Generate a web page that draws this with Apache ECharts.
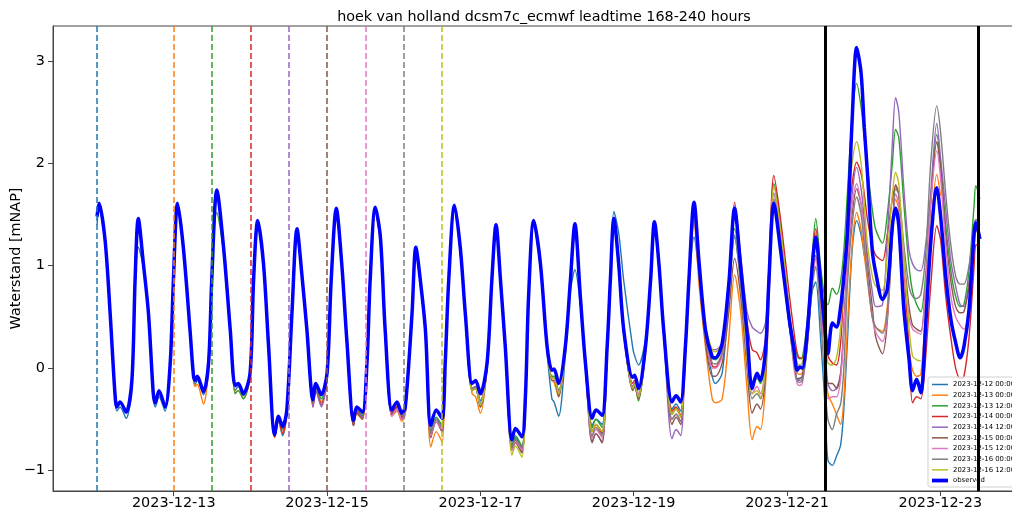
<!DOCTYPE html>
<html>
<head>
<meta charset="utf-8">
<script src="https://cdn.jsdelivr.net/npm/echarts@6/dist/echarts.min.js"></script>
<style>
html,body{margin:0;padding:0;background:#fff;}
#c{width:1012px;height:508px;}
</style>
</head>
<body>
<div id="c"></div>
<script>
// ---------------- data ----------------
const titleText = 'hoek van holland dcsm7c_ecmwf leadtime 168-240 hours';
const yAxisTitle = 'Waterstand [mNAP]';
const xTickLabels = ['2023-12-13', '2023-12-15', '2023-12-17', '2023-12-19', '2023-12-21', '2023-12-23'];
const yTicks = [-1, 0, 1, 2, 3];

// hours after 2023-12-12 00:00 of the read points
const hours = [
  0.0,0.6,2.5,4.1,5.6,6.2,7.2,9.1,10.9,11.9,
  12.9,14.5,16.1,17.6,18.2,19.4,21.3,22.9,23.9,25.2,
  27.0,29.1,30.2,30.7,31.4,33.3,34.9,35.9,37.5,39.6,
  41.7,43.2,44.2,45.8,47.9,49.0,50.3,52.1,53.7,55.6,
  56.8,58.1,59.4,61.0,62.6,64.1,65.7,67.6,68.5,70.2,
  72.0,73.3,74.9,76.6,78.2,80.3,81.3,83.1,84.5,85.5,
  87.1,88.7,90.2,92.3,93.9,95.4,96.5,98.6,99.8,101.2,
  102.8,104.5,106.2,108.0,109.0,110.1,111.9,113.7,115.3,117.4,
  118.5,120.0,122.1,123.6,124.9,126.3,127.8,129.9,131.0,133.0,
  134.1,135.1,136.7,138.8,140.9,142.4,143.1,144.5,146.6,148.2,
  149.6,151.3,152.9,155.0,156.2,158.1,159.7,160.7,161.8,163.3,
  164.9,167.7,168.3,169.5,171.7,173.3,174.5,175.9,177.4,180.0,
  181.3,182.7,184.2,185.3,186.9,188.5,190.5,192.6,193.6,195.7,
  197.8,199.6,201.5,203.5,205.1,206.6,207.7,209.3,210.3,211.9,
  214.0,216.6,218.2,219.2,220.0,220.8,222.3,223.9,225.0,226.5,
  228.0,228.8,230.2,231.5,232.8,233.8,234.9,236.4,237.8,239.2,
  240.2,241.2,242.7,243.8,245.9,247.4,249.0,250.0,251.0,252.6,
  254.2,255.3,256.6,257.9,259.4,261.0,262.9,264.1,265.7,267.3,
  268.8,270.2,271.4,273.0,274.6,275.1,276.4
];

const observed = [
  1.48,1.61,1.25,0.53,-0.25,-0.38,-0.33,-0.43,-0.12,0.86,
  1.46,1.02,0.53,-0.25,-0.34,-0.22,-0.38,0.05,0.86,1.61,
  1.18,0.37,-0.08,-0.12,-0.08,-0.23,0.05,0.86,1.74,1.18,
  0.37,-0.17,-0.15,-0.25,-0.05,0.86,1.44,1.02,0.21,-0.65,
  -0.47,-0.57,-0.41,0.53,1.36,0.92,0.37,-0.31,-0.15,-0.26,
  -0.05,0.86,1.56,1.02,0.27,-0.51,-0.38,-0.43,0.05,0.86,
  1.57,1.28,0.37,-0.41,-0.33,-0.44,-0.38,0.53,1.18,0.86,
  0.37,-0.56,-0.41,-0.49,0.05,0.86,1.59,1.18,0.53,-0.15,
  -0.12,-0.25,0.05,0.86,1.40,0.86,0.21,-0.70,-0.59,-0.67,
  -0.28,0.70,1.44,1.02,0.21,-0.02,-0.01,-0.15,0.21,0.86,
  1.41,0.70,0.05,-0.49,-0.41,-0.46,0.21,0.86,1.46,1.02,
  0.37,-0.09,-0.07,-0.20,0.21,0.86,1.43,1.02,0.37,-0.33,
  -0.27,-0.33,0.21,0.86,1.62,1.02,0.37,0.11,0.10,0.24,
  0.83,1.56,0.99,0.34,-0.20,-0.05,-0.12,0.18,0.83,1.61,
  1.15,0.50,0.18,-0.02,0.01,0.00,0.34,0.99,1.28,0.83,
  0.34,0.14,0.44,0.40,0.60,0.89,1.31,2.42,3.13,2.88,
  2.35,1.90,1.15,0.93,0.67,0.77,1.39,1.56,1.39,0.57,
  0.09,-0.22,-0.11,-0.24,0.41,1.22,1.76,1.48,0.90,0.48,
  0.25,0.10,0.21,0.57,1.32,1.42,1.26
];

const forecastLabels = ['2023-12-12 00:00','2023-12-13 00:00','2023-12-13 12:00','2023-12-14 00:00','2023-12-14 12:00','2023-12-15 00:00','2023-12-15 12:00','2023-12-16 00:00','2023-12-16 12:00'];
const forecastStartHours = [0, 24, 36, 48, 60, 72, 84, 96, 108];
const windowHours = [228, 276];

const fc_1212_00 = [
  1.40,1.55,1.22,0.50,-0.30,-0.42,-0.38,-0.49,-0.15,0.80,
  1.18,0.98,0.50,-0.28,-0.38,-0.28,-0.42,0.02,0.82,1.58,
  1.15,0.35,-0.10,-0.16,-0.12,-0.26,0.02,0.83,1.70,1.15,
  0.35,-0.22,-0.18,-0.27,-0.08,0.84,1.40,1.00,0.18,-0.67,
  -0.52,-0.66,-0.45,0.50,1.32,0.90,0.35,-0.36,-0.22,-0.33,
  -0.10,0.82,1.52,1.00,0.25,-0.55,-0.43,-0.47,0.02,0.84,
  1.55,1.25,0.35,-0.45,-0.40,-0.50,-0.42,0.50,1.15,0.84,
  0.35,-0.62,-0.50,-0.58,0.02,0.84,1.55,1.15,0.50,-0.20,
  -0.18,-0.32,0.02,0.84,1.38,0.84,0.18,-0.78,-0.68,-0.78,
  -0.35,0.65,1.40,1.00,0.15,-0.30,-0.33,-0.47,0.12,0.75,
  0.96,0.62,0.00,-0.56,-0.50,-0.55,0.15,0.88,1.53,1.32,
  0.85,0.20,0.12,0.03,0.28,0.82,1.38,1.00,0.35,-0.40,
  -0.35,-0.42,0.15,0.80,1.28,0.90,0.30,-0.08,-0.15,-0.05,
  0.70,1.28,0.85,0.25,-0.15,-0.10,-0.12,0.15,0.80,1.60,
  1.15,0.45,0.10,-0.12,-0.10,-0.08,0.25,0.75,0.84,0.30,
  -0.41,-0.90,-0.95,-0.86,-0.75,-0.40,0.25,1.15,1.44,1.30,1.10
];
const fc_1213_00 = [
  0.86,1.58,
  1.15,0.35,-0.12,-0.18,-0.16,-0.35,0.00,0.84,1.72,1.16,
  0.35,-0.24,-0.22,-0.30,-0.08,0.84,1.42,1.00,0.18,-0.68,
  -0.52,-0.64,-0.45,0.50,1.33,0.90,0.34,-0.36,-0.22,-0.34,
  -0.10,0.82,1.52,0.98,0.22,-0.56,-0.45,-0.50,0.02,0.82,
  1.52,1.22,0.33,-0.47,-0.42,-0.52,-0.45,0.48,1.15,0.82,
  0.33,-0.77,-0.62,-0.72,-0.02,0.82,1.55,1.12,0.48,-0.25,
  -0.28,-0.44,0.00,0.82,1.36,0.82,0.16,-0.80,-0.72,-0.82,
  -0.38,0.66,1.40,0.98,0.16,-0.12,-0.14,-0.28,0.15,0.82,
  1.36,0.66,0.00,-0.62,-0.55,-0.62,0.15,0.82,1.42,0.98,
  0.33,-0.20,-0.18,-0.30,0.15,0.82,1.38,0.98,0.33,-0.45,
  -0.40,-0.48,0.12,0.80,1.41,0.80,0.20,-0.30,-0.34,-0.30,
  0.30,0.91,0.55,-0.20,-0.70,-0.57,-0.60,-0.15,0.60,1.65,
  1.20,0.50,0.10,-0.05,-0.06,-0.05,0.30,1.00,1.32,0.85,
  0.10,-0.25,-0.35,-0.45,-0.55,-0.30,0.40,1.20,1.52,1.35,
  1.10,0.85,0.50,0.40,0.36,0.60,1.30,1.65,1.55,0.75,
  0.20,-0.02,-0.08,-0.06,0.55,1.35,1.89,1.68
];
const fc_1213_12 = [
  0.84,1.52,1.12,
  0.34,-0.25,-0.22,-0.30,-0.08,0.84,1.42,1.00,0.19,-0.66,
  -0.50,-0.60,-0.44,0.51,1.34,0.90,0.35,-0.34,-0.19,-0.30,
  -0.08,0.84,1.54,1.00,0.25,-0.54,-0.41,-0.46,0.03,0.84,
  1.55,1.25,0.35,-0.44,-0.37,-0.47,-0.41,0.51,1.16,0.84,
  0.35,-0.62,-0.48,-0.56,0.03,0.84,1.56,1.15,0.51,-0.22,
  -0.20,-0.38,0.03,0.84,1.38,0.84,0.19,-0.76,-0.66,-0.76,
  -0.34,0.68,1.42,1.00,0.19,-0.08,-0.08,-0.22,0.18,0.84,
  1.38,0.68,0.03,-0.58,-0.50,-0.58,0.18,0.84,1.44,1.00,
  0.35,-0.22,-0.18,-0.32,0.18,0.84,1.40,1.00,0.35,-0.45,
  -0.40,-0.47,0.18,0.84,1.55,1.00,0.35,0.10,0.08,0.20,
  0.75,1.36,0.95,0.30,-0.15,-0.10,-0.15,0.15,0.85,1.80,
  1.40,0.55,0.25,0.12,0.09,0.10,0.45,1.10,1.46,1.00,
  0.65,0.62,0.78,0.72,0.85,1.15,1.70,2.45,2.78,2.55,
  2.25,1.95,1.55,1.35,1.22,1.50,2.00,2.33,2.25,1.60,
  1.00,0.75,0.62,0.55,0.90,1.65,2.28,2.00,1.40,0.95,
  0.70,0.60,0.62,0.95,1.60,1.78,1.65
];
const fc_1214_00 = [
  -0.08,0.84,1.42,1.00,0.19,-0.67,
  -0.50,-0.64,-0.44,0.51,1.34,0.90,0.35,-0.38,-0.22,-0.36,
  -0.10,0.84,1.54,1.00,0.25,-0.55,-0.42,-0.48,0.02,0.84,
  1.55,1.25,0.35,-0.45,-0.38,-0.48,-0.42,0.51,1.16,0.84,
  0.35,-0.66,-0.52,-0.62,0.02,0.84,1.56,1.15,0.51,-0.20,
  -0.18,-0.36,0.02,0.84,1.38,0.84,0.19,-0.78,-0.70,-0.80,
  -0.36,0.68,1.42,1.00,0.19,-0.10,-0.10,-0.25,0.18,0.84,
  1.32,0.68,0.02,-0.62,-0.55,-0.64,0.16,0.84,1.44,1.00,
  0.35,-0.15,-0.12,-0.26,0.18,0.84,1.42,1.00,0.35,-0.42,
  -0.38,-0.46,0.16,0.84,1.58,1.00,0.35,0.02,0.01,0.15,
  0.78,1.62,1.05,0.45,0.18,0.15,0.08,0.30,0.95,1.88,
  1.45,0.75,0.35,0.15,0.10,0.10,0.40,1.05,1.36,0.90,
  0.30,0.12,0.05,0.03,0.25,0.80,1.30,1.80,2.01,1.90,
  1.70,1.45,1.20,1.10,1.05,1.30,1.65,1.78,1.70,1.00,
  0.20,-0.34,-0.28,-0.30,0.10,0.80,1.39,1.25,0.70,0.30,
  0.00,-0.10,-0.08,0.30,1.00,1.20,1.21
];
const fc_1214_12 = [
  0.51,1.34,0.90,0.35,-0.38,-0.22,-0.38,
  -0.10,0.84,1.54,1.00,0.25,-0.56,-0.43,-0.48,0.02,0.84,
  1.55,1.25,0.35,-0.46,-0.40,-0.50,-0.43,0.51,1.16,0.84,
  0.35,-0.66,-0.50,-0.60,0.02,0.84,1.56,1.15,0.51,-0.22,
  -0.20,-0.36,0.02,0.84,1.38,0.84,0.19,-0.80,-0.72,-0.82,
  -0.36,0.68,1.42,1.00,0.19,-0.10,-0.10,-0.26,0.18,0.84,
  1.36,0.68,0.02,-0.73,-0.64,-0.72,0.16,0.84,1.44,1.00,
  0.35,-0.20,-0.16,-0.28,0.18,0.84,1.40,1.00,0.35,-0.69,
  -0.60,-0.66,0.16,0.84,1.60,1.00,0.40,0.18,0.18,0.25,
  0.80,1.59,1.10,0.55,0.40,0.36,0.34,0.45,0.95,1.71,
  1.30,0.60,0.10,-0.12,-0.12,-0.10,0.20,0.90,1.25,0.80,
  0.20,-0.15,-0.22,-0.20,-0.05,0.40,1.10,1.70,1.96,1.75,
  1.45,1.10,0.75,0.60,0.62,1.26,2.20,2.64,2.50,1.75,
  1.15,1.02,0.96,0.95,1.20,1.71,2.39,2.05,1.55,1.05,
  0.80,0.62,0.60,0.85,1.30,1.45,1.40
];
const fc_1215_00 = [
  -0.10,0.84,1.54,1.00,0.25,-0.56,-0.44,-0.50,0.02,0.84,
  1.55,1.25,0.35,-0.46,-0.40,-0.49,-0.43,0.51,1.16,0.84,
  0.35,-0.68,-0.52,-0.62,0.02,0.84,1.56,1.15,0.51,-0.22,
  -0.20,-0.38,0.02,0.84,1.38,0.84,0.19,-0.80,-0.73,-0.83,
  -0.36,0.68,1.42,1.00,0.19,-0.12,-0.12,-0.28,0.18,0.84,
  1.36,0.68,0.02,-0.72,-0.64,-0.73,0.16,0.84,1.44,1.00,
  0.35,-0.22,-0.18,-0.30,0.18,0.84,1.40,1.00,0.35,-0.55,
  -0.48,-0.55,0.16,0.84,1.50,0.90,0.25,-0.08,-0.08,0.05,
  0.55,1.07,0.70,0.00,-0.44,-0.35,-0.40,-0.05,0.70,1.60,
  1.15,0.45,0.05,-0.10,-0.10,-0.08,0.25,0.85,1.10,0.65,
  0.10,-0.15,-0.15,-0.20,-0.05,0.40,1.00,1.50,1.75,1.60,
  1.35,1.00,0.60,0.30,0.14,0.45,1.30,1.79,1.70,1.10,
  0.60,0.42,0.38,0.36,0.80,1.60,2.21,1.95,1.30,0.85,
  0.60,0.54,0.55,0.80,1.25,1.35,1.30
];
const fc_1215_12 = [
  0.02,0.84,
  1.55,1.25,0.35,-0.47,-0.40,-0.50,-0.44,0.51,1.16,0.84,
  0.35,-0.66,-0.52,-0.60,0.02,0.84,1.56,1.15,0.51,-0.20,
  -0.18,-0.36,0.02,0.84,1.38,0.84,0.19,-0.80,-0.72,-0.80,
  -0.36,0.68,1.42,1.00,0.19,-0.10,-0.10,-0.24,0.18,0.84,
  1.36,0.68,0.02,-0.68,-0.60,-0.68,0.16,0.84,1.44,1.00,
  0.35,-0.18,-0.14,-0.26,0.18,0.84,1.40,1.00,0.35,-0.50,
  -0.45,-0.52,0.16,0.84,1.58,1.00,0.35,0.00,0.00,0.12,
  0.75,1.59,1.05,0.20,-0.25,-0.18,-0.25,0.10,0.85,1.71,
  1.20,0.50,0.00,-0.15,-0.17,-0.15,0.20,0.85,1.07,0.60,
  0.05,-0.30,-0.28,-0.28,-0.10,0.35,1.00,1.60,1.80,1.60,
  1.30,0.90,0.50,0.35,0.26,0.50,1.30,1.70,1.60,1.00,
  0.50,0.38,0.35,0.33,0.80,1.60,2.12,1.85,1.20,0.70,
  0.50,0.42,0.38,0.60,1.20,1.35,1.30
];
const fc_1216_00 = [
  -0.43,0.51,1.16,0.84,
  0.35,-0.64,-0.50,-0.58,0.02,0.84,1.56,1.15,0.51,-0.20,
  -0.18,-0.35,0.02,0.84,1.38,0.84,0.19,-0.78,-0.70,-0.78,
  -0.36,0.68,1.42,1.00,0.19,-0.10,-0.10,-0.25,0.18,0.84,
  1.36,0.68,0.02,-0.66,-0.58,-0.66,0.16,0.84,1.44,1.00,
  0.35,-0.18,-0.15,-0.28,0.18,0.84,1.40,1.00,0.35,-0.50,
  -0.45,-0.52,0.16,0.84,1.45,0.90,0.30,0.05,0.04,0.15,
  0.70,1.30,0.80,0.10,-0.30,-0.25,-0.30,0.00,0.75,1.65,
  1.15,0.45,0.05,-0.12,-0.14,-0.12,0.20,0.80,0.99,0.50,
  -0.20,-0.50,-0.60,-0.45,-0.35,0.00,0.80,1.40,1.67,1.50,
  1.20,0.90,0.50,0.40,0.34,0.55,1.30,1.75,1.70,1.20,
  0.80,0.70,0.68,0.72,1.10,2.00,2.56,2.30,1.70,1.20,
  0.90,0.82,0.82,1.00,1.40,1.45,1.45
];
const fc_1216_12 = [
  -0.58,0.02,0.84,1.56,1.15,0.51,-0.22,
  -0.20,-0.36,0.02,0.84,1.38,0.84,0.19,-0.85,-0.76,-0.87,
  -0.40,0.68,1.42,1.00,0.19,-0.10,-0.10,-0.25,0.18,0.84,
  1.38,0.68,0.02,-0.62,-0.55,-0.62,0.16,0.84,1.44,1.00,
  0.35,-0.20,-0.16,-0.28,0.18,0.84,1.40,1.00,0.35,-0.45,
  -0.40,-0.47,0.16,0.84,1.58,1.00,0.40,0.18,0.16,0.25,
  0.80,1.50,1.00,0.10,-0.25,-0.22,-0.29,0.05,0.85,1.77,
  1.35,0.60,0.20,0.05,0.03,0.05,0.35,1.00,1.20,0.70,
  0.30,0.05,0.03,0.10,0.40,0.90,1.50,2.00,2.21,2.00,
  1.60,1.20,0.90,0.80,0.76,1.10,1.70,1.91,1.80,1.10,
  0.40,0.12,0.08,0.07
];
const forecastValues = [fc_1212_00, fc_1213_00, fc_1213_12, fc_1214_00, fc_1214_12, fc_1215_00, fc_1215_12, fc_1216_00, fc_1216_12];

// ---------------- styling / helpers ----------------
const forecastColors = ['#1f77b4','#ff7f0e','#2ca02c','#d62728','#9467bd','#8c564b','#e377c2','#7f7f7f','#bcbd22'];
const FONT = 'DejaVu Sans';
const START = Date.UTC(2023, 11, 12, 0, 0, 0);
const HOUR = 3600 * 1000;
const dayToHours = s => { const p = s.split('-').map(Number); return (Date.UTC(p[0], p[1] - 1, p[2]) - START) / HOUR; };
const xTickHours = xTickLabels.map(dayToHours);
const xLabelFor = v => { const i = xTickHours.findIndex(t => Math.abs(t - v) < 1e-6); return i >= 0 ? xTickLabels[i] : ''; };

const series = [];
forecastLabels.forEach((name, k) => {
  const color = forecastColors[k];
  const s = hours.findIndex(h => h >= forecastStartHours[k] - 0.25);
  const vals = forecastValues[k].slice(0, hours.length - s);
  series.push({
    name: name, type: 'line', symbol: 'none', smooth: 0.3, z: 2,
    data: vals.map((v, i) => [hours[s + i], v]),
    lineStyle: { width: 1.4, color: color }, itemStyle: { color: color },
    emphasis: { disabled: true },
    markLine: {
      silent: true, symbol: 'none', label: { show: false }, animation: false,
      lineStyle: { color: color, type: [6, 3], width: 1.5 },
      emphasis: { disabled: true },
      data: [{ xAxis: forecastStartHours[k] }]
    }
  });
});
series.push({
  name: 'observed', type: 'line', symbol: 'none', smooth: 0.3, z: 3,
  data: observed.map((v, i) => [hours[i], v]),
  lineStyle: { width: 3.5, color: '#0000ff' }, itemStyle: { color: '#0000ff' },
  emphasis: { disabled: true },
  markLine: {
    silent: true, symbol: 'none', label: { show: false }, animation: false,
    lineStyle: { color: '#000', type: 'solid', width: 3 },
    emphasis: { disabled: true },
    data: windowHours.map(h => ({ xAxis: h }))
  }
});

const legendData = forecastLabels.map(n => ({ name: n, icon: 'path://M0,0H32V3H0Z' }))
  .concat([{ name: 'observed', icon: 'path://M0,0H32V7.5H0Z' }]);

const option = {
  animation: false,
  backgroundColor: '#fff',
  textStyle: { fontFamily: FONT },
  title: {
    text: titleText, left: 539, top: 5, textAlign: 'center',
    textStyle: { fontFamily: FONT, fontSize: 14.3, fontWeight: 'normal', color: '#000' }
  },
  legend: {
    data: legendData, orient: 'vertical', left: 928, top: 377,
    padding: [4, 4, 3, 4], itemWidth: 16, itemHeight: 7, itemGap: 3.67,
    backgroundColor: 'rgba(255,255,255,0.8)', borderColor: '#d0d0d0', borderWidth: 1, borderRadius: 2,
    textStyle: { fontFamily: FONT, fontSize: 6.9, lineHeight: 7, color: '#000' },
    selectedMode: false
  },
  grid: { left: 53, top: 26, right: -10.7, bottom: 17, show: true, borderColor: '#444', borderWidth: 1, containLabel: false, outerBoundsMode: 'none' },
  xAxis: {
    type: 'value',
    min: -13.8, max: 289.8,
    axisLine: { show: true, onZero: false, lineStyle: { color: '#444', width: 1 } },
    axisTick: { show: true, length: 5, lineStyle: { color: '#444' }, customValues: xTickHours },
    axisLabel: { customValues: xTickHours, formatter: v => xLabelFor(v), fontFamily: FONT, fontSize: 14.4, color: '#000', margin: 5 },
    splitLine: { show: false }
  },
  yAxis: {
    type: 'value', min: -1.2, max: 3.34,
    name: yAxisTitle, nameLocation: 'middle', nameGap: 30, nameMoveOverlap: false,
    nameTextStyle: { fontFamily: FONT, fontSize: 14.4, color: '#000' },
    axisLine: { show: true, onZero: false, lineStyle: { color: '#444', width: 1 } },
    axisTick: { show: true, length: 5, lineStyle: { color: '#444' }, customValues: yTicks },
    axisLabel: { customValues: yTicks, formatter: v => (v < 0 ? '\u2212' + Math.abs(v) : String(v)), fontFamily: FONT, fontSize: 14.4, color: '#000', margin: 8 },
    splitLine: { show: false }
  },
  series: series
};

const chart = echarts.init(document.getElementById('c'), null, { renderer: 'canvas' });
chart.setOption(option);
</script>
</body>
</html>
